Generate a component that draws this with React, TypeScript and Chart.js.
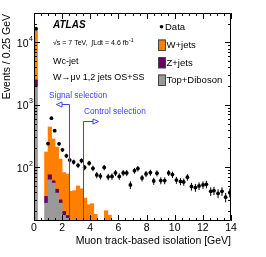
import React, { useEffect, useRef, useState } from "react";
import { Chart, registerables } from "chart.js";
Chart.register(...registerables);

// ---- data ----
const BIN_WIDTH = 0.25;
const N_BINS = 56;
const X_MIN = 0;
const X_MAX = 14;
const Y_MIN = 13.7;
const Y_MAX = 29700;

// stacked MC (per 0.25 GeV bin, index 0 = 0-0.25 GeV)
const topDiboson = [1940, null, null, 26.5, 62.7, 55.5, 38.4, 26.5, 16.8, 15.2];
const zJets = [570, null, null, 7.5, 12.8, 5, 6, 3.4, 2.7, 1.6];
const wJets = [12900, null, null, 141, 366, 223, 165, 105, 62.5, 61, 41, 42, 50, 45, 32, 25, 26, 17.5, null, null, 20, 17];

// data points
const dataX = [0.15, 0.995, 1.24, 1.47, 1.78, 2.02, 2.3, 2.54, 2.82, 3.13, 3.37, 3.6, 3.92, 4.19, 4.46, 4.72, 4.99,
  5.27, 5.54, 5.79, 6.06, 6.34, 6.59, 6.85, 7.14, 7.38, 7.68, 7.96, 8.27, 8.51, 8.74, 9.01, 9.29, 9.57, 9.84,
  10.12, 10.41, 10.64, 10.9, 11.19, 11.47, 11.73, 12.01, 12.25, 12.56, 12.79, 13.08, 13.36, 13.62, 13.91];
const dataY = [16600, 239, 610, 385, 237, 190, 152, 130, 121, 107, 127, 99, 116, 96, 75, 72, 99,
  70, 71, 81, 71, 81, 81, 52, 88, 95, 67, 78, 82, 60, 80, 61, 61, 81, 76,
  62, 59, 58, 69, 49, 47, 50, 52, 53, 41, 42, 38, 41, 33, 39];

const xTickLabels = ["0", "2", "4", "6", "8", "10", "12", "14"];
const yTickExponents = [2, 3, 4];

const signalCut = 2.5;
const controlCut = 3.5;

const ORANGE = "#ff8000";
const PURPLE = "#660066";
const GRAY = "#999999";
const BLUE = "#4040ff";
const FONT = "'Liberation Sans', Arial, Helvetica, sans-serif";

function drawOverlay(chart: any, ctx: CanvasRenderingContext2D) {
  const xs = chart.scales.x, ys = chart.scales.y;
  const { left, right, top, bottom } = chart.chartArea;
  ctx.clearRect(0, 0, 266, 257);
  ctx.save();
  ctx.lineWidth = 1;

  // error bars of the data
  ctx.strokeStyle = "#000";
  ctx.beginPath();
  dataX.forEach((x, i) => {
    const v = dataY[i];
    const e = Math.sqrt(v);
    const px = xs.getPixelForValue(x);
    ctx.moveTo(px, ys.getPixelForValue(v + e));
    ctx.lineTo(px, ys.getPixelForValue(Math.max(v - e, Y_MIN)));
  });
  ctx.stroke();

  // selection lines and open arrows
  ctx.strokeStyle = BLUE;
  const sx = Math.round(xs.getPixelForValue(signalCut)) + 0.5;
  const cx = Math.round(xs.getPixelForValue(controlCut)) + 0.5;
  const sy = 104.5, cy = 121.5;
  ctx.beginPath();
  ctx.moveTo(sx, bottom); ctx.lineTo(sx, sy); ctx.lineTo(62, sy);
  ctx.moveTo(cx, bottom); ctx.lineTo(cx, cy); ctx.lineTo(93, cy);
  ctx.stroke();
  ctx.beginPath();
  ctx.moveTo(62, sy - 2.5); ctx.lineTo(56.5, sy); ctx.lineTo(62, sy + 2.5); ctx.closePath();
  ctx.stroke();
  ctx.beginPath();
  ctx.moveTo(93, cy - 2.5); ctx.lineTo(98.5, cy); ctx.lineTo(93, cy + 2.5); ctx.closePath();
  ctx.stroke();

  // frame and ticks
  ctx.strokeStyle = "#000";
  ctx.beginPath();
  ctx.rect(left + 0.5, top + 0.5, right - left - 1, bottom - top - 1);
  for (let v = X_MIN; v <= X_MAX + 1e-9; v += 0.5) {
    const p = Math.round(xs.getPixelForValue(v)) + 0.5;
    const major = Math.abs(v / 2 - Math.round(v / 2)) < 1e-9;
    const len = major ? 6 : 3;
    ctx.moveTo(p, bottom); ctx.lineTo(p, bottom - len);
    ctx.moveTo(p, top); ctx.lineTo(p, top + len);
  }
  for (let e = 1; e <= 4; e++) {
    for (let d = 1; d <= 9; d++) {
      const v = d * Math.pow(10, e);
      if (v < Y_MIN || v > Y_MAX) continue;
      const p = Math.round(ys.getPixelForValue(v)) + 0.5;
      const len = d === 1 ? 6 : 3;
      ctx.moveTo(left, p); ctx.lineTo(left + len, p);
      ctx.moveTo(right, p); ctx.lineTo(right - len, p);
    }
  }
  ctx.stroke();

  ctx.fillStyle = "#000";
  ctx.textBaseline = "middle";
  // x tick labels
  ctx.font = `10.5px ${FONT}`;
  ctx.textAlign = "center";
  xTickLabels.forEach((t) => ctx.fillText(t, xs.getPixelForValue(Number(t)), 228.5));
  // y tick labels
  yTickExponents.forEach((e) => {
    const p = ys.getPixelForValue(Math.pow(10, e));
    ctx.font = `10.5px ${FONT}`;
    ctx.textAlign = "right";
    ctx.fillText("10", 28.5, p + 1.5);
    ctx.font = `7px ${FONT}`;
    ctx.textAlign = "left";
    ctx.fillText(String(e), 29, p - 3.5);
  });
  // axis titles
  ctx.font = `10.5px ${FONT}`;
  ctx.textAlign = "right";
  ctx.fillText("Muon track-based isolation [GeV]", right, 241.5);
  ctx.save();
  ctx.translate(7.5, top + 1);
  ctx.rotate(-Math.PI / 2);
  ctx.fillText("Events / 0.25 GeV", 0, 0);
  ctx.restore();

  // ATLAS labels
  ctx.textAlign = "left";
  ctx.font = `bold italic 10px ${FONT}`;
  ctx.fillText("ATLAS", 53, 25.5);
  ctx.font = `7px ${FONT}`;
  const lumi = "\u221As = 7 TeV,  \u222BLdt = 4.6 fb";
  ctx.fillText(lumi, 53, 43.5);
  const w = ctx.measureText(lumi).width;
  ctx.font = `5px ${FONT}`;
  ctx.fillText("-1", 53 + w + 0.5, 40.5);
  ctx.font = `9px ${FONT}`;
  ctx.fillText("Wc-jet", 53, 62);
  ctx.fillText("W\u2192\u03BC\u03BD 1,2 jets OS+SS", 53, 78);

  // selection labels
  ctx.fillStyle = BLUE;
  ctx.font = `8.3px ${FONT}`;
  ctx.fillText("Signal selection", 49, 95.5);
  ctx.fillText("Control selection", 84, 112);

  // legend
  ctx.fillStyle = "#000";
  ctx.beginPath();
  ctx.arc(161.5, 26.7, 1.8, 0, Math.PI * 2);
  ctx.fill();
  ctx.font = `9.5px ${FONT}`;
  ctx.fillText("Data", 165, 27);
  const items: [string, string, number][] = [
    ["W+jets", ORANGE, 45],
    ["Z+jets", PURPLE, 62.5],
    ["Top+Diboson", GRAY, 80],
  ];
  items.forEach(([label, color, y]) => {
    ctx.fillStyle = color;
    ctx.fillRect(158, y - 5.5, 7.5, 11);
    ctx.strokeStyle = "#444";
    ctx.strokeRect(158.5, y - 5, 7, 10.5);
    ctx.fillStyle = "#000";
    ctx.fillText(label, 166.5, y + 0.5);
  });
  ctx.restore();
}

export default function App() {
  const ref = useRef<HTMLCanvasElement>(null);
  const overlayRef = useRef<HTMLCanvasElement>(null);
  const [, setReady] = useState(false);
  useEffect(() => {
    const canvas = ref.current!;
    const centers = Array.from({ length: N_BINS }, (_, i) => (i + 0.5) * BIN_WIDTH);
    const mk = (arr: (number | null)[]) => centers.map((x, i) => ({ x, y: arr[i] ?? null }));
    const chart = new Chart(canvas, {
      type: "bar",
      data: {
        datasets: [
          { type: "bar", label: "Top+Diboson", data: mk(topDiboson), backgroundColor: GRAY, stack: "mc", barPercentage: 1, categoryPercentage: 1, order: 1 },
          { type: "bar", label: "Z+jets", data: mk(zJets), backgroundColor: PURPLE, stack: "mc", barPercentage: 1, categoryPercentage: 1, order: 1 },
          { type: "bar", label: "W+jets", data: mk(wJets), backgroundColor: ORANGE, stack: "mc", barPercentage: 1, categoryPercentage: 1, order: 1 },
          {
            type: "scatter",
            label: "Data",
            data: dataX.map((x, i) => ({ x, y: dataY[i] })),
            pointRadius: 1.9,
            pointBackgroundColor: "#000",
            pointBorderWidth: 0,
            borderWidth: 0,
            showLine: false,
            stack: "data",
            order: 0,
          } as any,
        ],
      },
      options: {
        animation: false,
        responsive: false,
        devicePixelRatio: 1,
        events: [],
        layout: { padding: { left: 34, right: 35, top: 13, bottom: 36 } },
        plugins: { legend: { display: false }, tooltip: { enabled: false } },
        scales: {
          x: { type: "linear", min: X_MIN, max: X_MAX, display: false, stacked: true, offset: false },
          y: { type: "logarithmic", min: Y_MIN, max: Y_MAX, display: false, stacked: true },
        },
      } as any,
    });
    const octx = overlayRef.current!.getContext("2d")!;
    drawOverlay(chart, octx);
    setReady(true);
    return () => {
      chart.destroy();
      octx.clearRect(0, 0, 266, 257);
    };
  }, []);

  return (
    <div>
      <canvas ref={ref} width={266} height={257} style={{ position: "fixed", left: 0, top: 0, width: 266, height: 257 }} />
      <canvas
        ref={overlayRef}
        width={266}
        height={257}
        style={{ position: "fixed", left: 0, top: 0, width: 266, height: 257, pointerEvents: "none" }}
      />
    </div>
  );
}
